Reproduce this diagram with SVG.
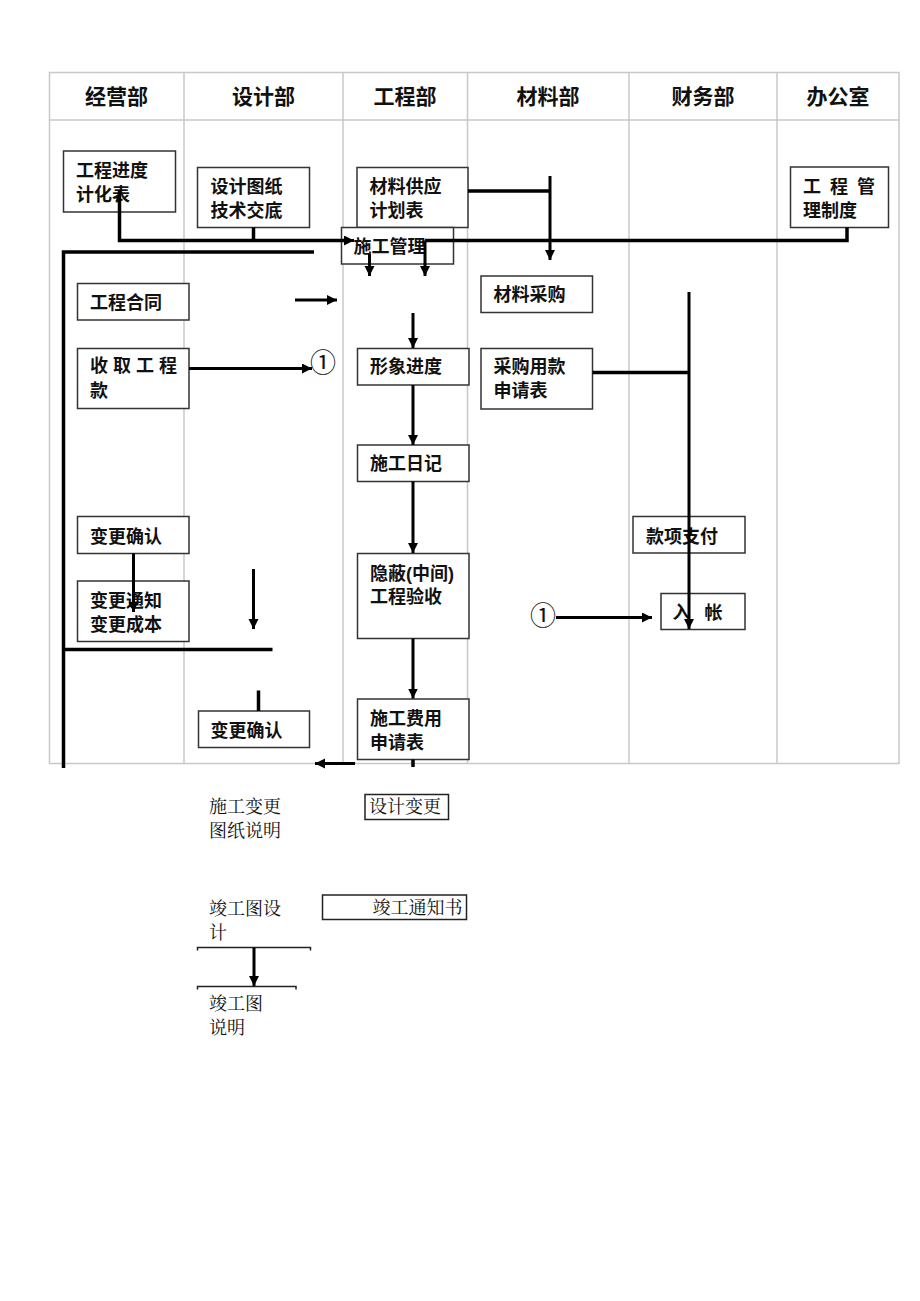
<svg xmlns="http://www.w3.org/2000/svg" width="920" height="1301" viewBox="0 0 920 1301">
<style>
.grid{stroke:#c8c8c8;stroke-width:1.5;fill:none}
.box{fill:#fff;stroke:#333;stroke-width:1.5}
.hd{font-family:"Liberation Sans","Noto Sans CJK SC",sans-serif;font-weight:bold;font-size:21px;fill:#111;text-anchor:middle}
.t{font-family:"Liberation Sans","Noto Sans CJK SC",sans-serif;font-weight:bold;font-size:18px;fill:#111}
.s{font-family:"Noto Serif CJK SC","Liberation Serif","Noto Sans CJK SC",serif;font-size:18px;fill:#111}
.c{font-family:"Noto Sans CJK SC","Liberation Sans",sans-serif;font-size:26px;fill:#111;text-anchor:middle}
.ln{stroke:#000;stroke-width:3.5;fill:none}
.la{stroke:#000;stroke-width:3;fill:none;marker-end:url(#ah)}
.thin{stroke:#222;stroke-width:1.5;fill:none}
</style>
<defs>
<marker id="ah" markerUnits="userSpaceOnUse" markerWidth="11" markerHeight="11" refX="10" refY="5" orient="auto">
<path d="M0,0 L10,5 L0,10 z" fill="#000"/>
</marker>
</defs>
<rect width="920" height="1301" fill="#fff"/>
<g id="grid">
<rect class="grid" x="49.5" y="72.5" width="849.5" height="691"/>
<line class="grid" x1="49.5" y1="120" x2="899" y2="120"/>
<line class="grid" x1="184" y1="72.5" x2="184" y2="763.5"/>
<line class="grid" x1="343" y1="72.5" x2="343" y2="763.5"/>
<line class="grid" x1="467.5" y1="72.5" x2="467.5" y2="763.5"/>
<line class="grid" x1="629" y1="72.5" x2="629" y2="763.5"/>
<line class="grid" x1="777" y1="72.5" x2="777" y2="763.5"/>
<text class="hd" x="116.5" y="104">经营部</text>
<text class="hd" x="263.5" y="104">设计部</text>
<text class="hd" x="405" y="104">工程部</text>
<text class="hd" x="548" y="104">材料部</text>
<text class="hd" x="703" y="104">财务部</text>
<text class="hd" x="838" y="104">办公室</text>
</g>
<g id="n-jindu"><rect class="box" x="63.5" y="151" width="112" height="61"/><text class="t" x="76" y="176.5">工程进度</text><text class="t" x="76" y="200.5">计化表</text></g>
<g id="n-tuzhi"><rect class="box" x="197.5" y="167.5" width="112" height="60"/><text class="t" x="210.5" y="192.5">设计图纸</text><text class="t" x="210.5" y="216.5">技术交底</text></g>
<g id="n-gongying"><rect class="box" x="357" y="167.5" width="111" height="60"/><text class="t" x="369.5" y="192.5">材料供应</text><text class="t" x="369.5" y="216.5">计划表</text></g>
<g id="n-guanli"><rect class="box" x="341.5" y="227.5" width="112" height="36.5"/><text class="t" x="353.5" y="253">施工管理</text></g>
<g id="n-zhidu"><rect class="box" x="790.5" y="167" width="98" height="60.5"/><text class="t" x="803" y="193" word-spacing="4">工 程 管</text><text class="t" x="803" y="216.5">理制度</text></g>
<g id="n-hetong"><rect class="box" x="77.5" y="283.5" width="111.5" height="36.5"/><text class="t" x="90" y="309">工程合同</text></g>
<g id="n-caigou"><rect class="box" x="481" y="276" width="111.5" height="36.5"/><text class="t" x="493.5" y="300.5">材料采购</text></g>
<g id="n-shouqu"><rect class="box" x="77.5" y="348.5" width="111.5" height="60"/><text class="t" x="90" y="371.5">收 取 工 程</text><text class="t" x="90" y="396.5">款</text></g>
<g id="n-xingxiang"><rect class="box" x="357.5" y="348.5" width="111.5" height="36.5"/><text class="t" x="370" y="373">形象进度</text></g>
<g id="n-yongkuan"><rect class="box" x="481" y="348.5" width="111.5" height="60.5"/><text class="t" x="493.5" y="373">采购用款</text><text class="t" x="493.5" y="397">申请表</text></g>
<g id="n-rizhi"><rect class="box" x="357.5" y="445" width="111.5" height="36.5"/><text class="t" x="370" y="470">施工日记</text></g>
<g id="n-queren1"><rect class="box" x="77.5" y="516.5" width="111.5" height="37"/><text class="t" x="90" y="543">变更确认</text></g>
<g id="n-zhifu"><rect class="box" x="633" y="516.5" width="112" height="36.5"/><text class="t" x="646" y="542.5">款项支付</text></g>
<g id="n-yinbi"><rect class="box" x="357.5" y="553.5" width="111.5" height="85"/><text class="t" x="370" y="580">隐蔽(中间)</text><text class="t" x="370" y="603">工程验收</text></g>
<g id="n-tongzhi"><rect class="box" x="77.5" y="581" width="111.5" height="60.5"/><text class="t" x="90" y="607">变更通知</text><text class="t" x="90" y="630.5">变更成本</text></g>
<g id="n-ruzhang"><rect class="box" x="661" y="593.5" width="84" height="36"/><text class="t" x="672.5" y="619" word-spacing="9">入 帐</text></g>
<g id="n-queren2"><rect class="box" x="198.5" y="711" width="111" height="36.5"/><text class="t" x="210.5" y="737">变更确认</text></g>
<g id="n-feiyong"><rect class="box" x="357.5" y="699" width="111.5" height="60.5"/><text class="t" x="370" y="725">施工费用</text><text class="t" x="370" y="748.5">申请表</text></g>
<g id="c1"><text class="c" x="323" y="371.5">①</text></g>
<g id="c2"><text class="c" x="543" y="625">①</text></g>
<g id="n-biangeng-sm"><text class="s" x="209" y="813">施工变更</text><text class="s" x="209" y="837">图纸说明</text></g>
<g id="n-sheji-bg"><rect class="thin" x="365" y="794.5" width="83.5" height="25"/><text class="s" x="369" y="813">设计变更</text></g>
<g id="n-jungong-sj"><text class="s" x="209" y="915">竣工图设</text><text class="s" x="209" y="938.5">计</text></g>
<g id="n-tongzhishu"><rect class="thin" x="322.5" y="895" width="144" height="24.5"/><text class="s" x="372.5" y="913.5">竣工通知书</text></g>
<g id="n-jungong-sm"><text class="s" x="209" y="1010">竣工图</text><text class="s" x="209" y="1034">说明</text></g>
<g id="connectors">
<polyline class="ln" points="119.5,190 119.5,240.5 344,240.5"/>
<line class="la" x1="340" y1="240.5" x2="354" y2="240.5"/>
<line class="ln" x1="253.5" y1="227.5" x2="253.5" y2="240.5"/>
<polyline class="ln" points="847,227.5 847,240.5 425,240.5"/>
<line class="la" x1="425" y1="240.5" x2="425" y2="276"/>
<line class="la" x1="369.5" y1="254" x2="369.5" y2="276"/>
<polyline class="ln" points="468,191 550,191"/>
<line class="la" x1="550" y1="176" x2="550" y2="260"/>
<polyline class="ln" points="314,252 63.5,252 63.5,768"/>
<line class="ln" x1="63.5" y1="649.5" x2="272.5" y2="649.5"/>
<line class="la" x1="295" y1="300" x2="337" y2="300"/>
<line class="la" x1="189" y1="368.5" x2="312" y2="368.5"/>
<line class="la" x1="413" y1="313" x2="413" y2="348"/>
<line class="la" x1="413" y1="385" x2="413" y2="445"/>
<line class="la" x1="413" y1="481.5" x2="413" y2="553"/>
<line class="la" x1="413" y1="638.5" x2="413" y2="698.5"/>
<line class="ln" x1="413" y1="759.5" x2="413" y2="767"/>
<line class="la" x1="355" y1="763.5" x2="315" y2="763.5"/>
<line class="ln" x1="592.5" y1="372.5" x2="689" y2="372.5"/>
<line class="la" x1="689" y1="292" x2="689" y2="629"/>
<line class="la" x1="556" y1="617.5" x2="652" y2="617.5"/>
<line class="la" x1="133.5" y1="553.5" x2="133.5" y2="612"/>
<line class="la" x1="253.5" y1="569" x2="253.5" y2="629"/>
<line class="ln" x1="258.5" y1="690.5" x2="258.5" y2="711"/>
<path class="thin" d="M197.5,950.5 V947.5 H310.5 V950.5"/>
<line class="la" x1="254" y1="947.5" x2="254" y2="986"/>
<path class="thin" d="M197.5,989.5 V986.5 H296 V989.5"/>
</g>
</svg>
